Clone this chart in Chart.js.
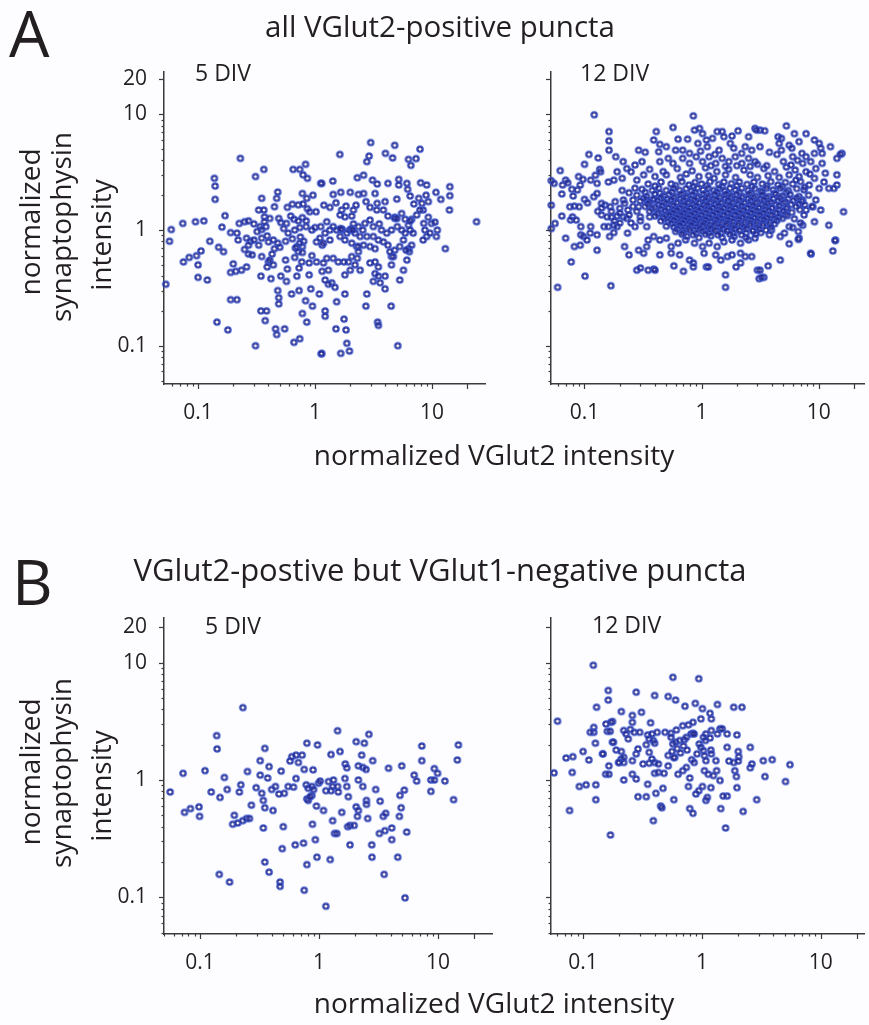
<!DOCTYPE html>
<html>
<head>
<meta charset="utf-8">
<script src="https://cdn.jsdelivr.net/npm/chart.js@4/dist/chart.umd.min.js"></script>
<style>
  body { margin: 0; background: #fdfdff; }
  #fig { position: relative; width: 869px; height: 1025px; overflow: hidden; background: #fdfdff;
         font-family: "Open Sans", sans-serif; color: #231f20; }
  #fig canvas { position: absolute; left: 0; top: 0; }
  .t { position: absolute; white-space: nowrap; line-height: 1; }
</style>
</head>
<body>
<div id="fig">
  <canvas id="a5" width="869" height="1025"></canvas>
  <canvas id="a12" width="869" height="1025"></canvas>
  <canvas id="b5" width="869" height="1025"></canvas>
  <canvas id="b12" width="869" height="1025"></canvas>
</div>
<script>
// tick labels shown on the log axes
const xTickLabels = [0.1, 1, 10];
const yTickLabels = [0.1, 1, 10, 20];

// A, 5 DIV: all VGlut2-positive puncta  [VGlut2, synaptophysin]
const a5Points = [
  [0.23,4.16],[0.31,2.9],[0.365,3.34],[0.138,2.8],[0.14,2.4],[0.14,1.84],[0.17,1.33],[0.074,1.14],[0.095,1.18],[0.112,1.2],
  [0.059,1.01],[0.057,0.8],[0.16,1.06],[0.126,0.8],[0.15,0.71],[0.165,0.65],[0.106,0.66],[0.097,0.6],[0.084,0.58],[0.075,0.53],
  [0.1,0.5],[0.1,0.39],[0.12,0.37],[0.053,0.34],[0.2,0.51],[0.19,0.43],[0.21,0.44],[0.235,0.45],[0.26,0.48],[0.19,0.25],
  [0.215,0.25],[0.145,0.16],[0.18,0.137],[0.31,0.1],[0.345,0.2],[0.385,0.2],[0.375,0.165],[0.46,0.14],[0.47,0.125],[0.55,0.14],
  [0.66,0.107],[0.74,0.115],[1.13,0.085],[0.345,0.4],[0.42,0.38],[0.48,0.3],[0.49,0.26],[0.49,0.23],[0.63,0.28],[0.73,0.3],
  [0.92,0.31],[0.83,0.245],[0.95,0.22],[0.78,0.19],[0.85,0.16],[0.51,0.4],[0.58,0.46],[0.73,0.47],[0.89,0.41],[1.15,0.44],
  [0.4,0.53],[0.39,0.48],[0.56,0.55],[0.35,0.59],[0.225,1.14],[0.19,0.95],[0.215,0.94],[0.22,0.82],[0.25,1.18],[0.27,1.2],
  [0.26,0.85],[0.28,0.8],[0.27,0.74],[0.25,0.68],[0.27,0.62],[0.29,0.61],[0.33,1.49],[0.365,1.49],[0.35,1.88],[0.3,1.13],
  [0.34,1.07],[0.38,1.07],[0.35,1.01],[0.32,0.97],[0.3,0.82],[0.33,0.74],[0.35,0.85],[0.39,0.89],[0.4,0.79],[0.44,0.82],
  [0.48,0.77],[0.5,0.71],[0.45,0.69],[0.37,1.3],[0.41,1.26],[0.37,1.18],[0.45,1.59],[0.47,1.88],[0.48,2.13],[0.58,1.57],
  [0.64,1.67],[0.72,1.65],[0.79,1.68],[0.86,1.53],[0.9,1.44],[1.02,1.44],[0.49,1.26],[0.51,1.16],[0.57,1.14],[0.54,1.03],
  [0.59,0.94],[0.67,1.0],[0.74,1.05],[0.84,1.07],[0.94,1.0],[1.0,1.05],[1.12,1.07],[0.65,3.34],[0.74,3.34],[0.83,3.7],
  [0.79,3.0],[0.86,2.8],[0.78,2.07],[0.85,1.88],[0.96,2.0],[1.12,2.53],[0.75,0.87],[0.8,0.8],[0.78,0.72],[0.74,0.77],
  [0.7,0.72],[0.68,0.7],[0.72,0.65],[0.78,0.64],[1.03,0.79],[1.1,0.85],[1.15,0.74],[0.94,0.6],[0.89,0.52],[1.03,0.53],
  [0.41,0.55],[0.44,0.5],[0.62,1.32],[0.66,1.24],[0.78,1.28],[0.84,1.2],[0.72,1.2],[0.56,0.8],[0.64,0.84],[0.43,0.62],
  [0.7,0.4],[0.57,0.36],[0.67,0.58],[0.77,0.53],[1.09,0.28],
  [2.99,5.7],[4.8,5.4],[7.9,5.0],[1.63,4.5],[2.9,4.36],[2.77,3.9],[4.0,4.6],[4.6,4.2],[6.3,4.08],[6.6,3.62],
  [7.3,4.14],[1.42,2.65],[1.14,2.53],[2.3,2.83],[2.6,2.98],[3.1,2.7],[3.4,2.5],[4.2,2.53],[5.2,2.74],[5.2,2.45],
  [6.1,2.53],[6.2,2.25],[8.0,2.56],[9.0,2.45],[14.2,2.37],[14.2,1.98],[14.1,1.49],[10.8,2.12],[11.9,1.84],[24,1.18],
  [13,0.69],[1.43,2.03],[1.66,2.12],[2.0,2.12],[2.35,2.03],[2.6,2.07],[2.73,1.76],[3.26,2.07],[3.97,1.76],[5.0,1.85],
  [6.5,1.97],[7.0,1.68],[7.7,1.88],[8.2,1.7],[8.9,2.0],[9.3,1.76],[8.4,1.49],[1.19,1.64],[1.34,1.57],[1.51,1.72],
  [1.69,1.49],[1.84,1.61],[2.13,1.49],[2.24,1.64],[2.95,1.57],[3.37,1.49],[3.4,1.7],[3.84,1.49],[4.2,1.32],[4.8,1.29],
  [5.5,1.39],[5.9,1.24],[6.7,1.24],[7.4,1.35],[7.9,1.49],[8.5,1.14],[9.3,1.29],[9.9,1.14],[10.6,1.17],[11.1,1.0],
  [8.7,1.0],[9.0,0.88],[8.4,0.82],[9.6,0.94],[10.9,0.88],
  [1.64,1.35],[1.8,1.3],[2.06,1.32],[2.13,1.13],[2.35,1.07],[2.56,1.0],[2.67,1.14],[2.95,1.22],[3.15,1.07],[3.54,1.13],
  [3.7,1.0],[4.1,0.94],[4.5,1.0],[4.8,1.26],[5.05,1.07],[5.5,1.0],[5.9,0.94],[6.3,1.1],[6.5,1.0],[6.9,0.94],
  [1.26,1.18],[1.34,1.0],[1.43,1.07],[1.22,0.94],[1.53,1.0],[1.69,1.0],[1.87,0.94],[1.97,1.0],[2.2,0.94],[2.43,0.88],
  [2.77,0.88],[3.15,0.88],[3.48,0.82],[3.84,0.79],[4.2,0.74],[2.95,0.72],[3.26,0.69],[2.6,0.74],[2.27,0.72],[2.06,0.77],
  [1.8,0.82],[1.64,0.88],[1.34,0.82],[1.18,0.77],[5.7,0.82],[5.3,0.72],[6.3,0.69],[6.7,0.74],[4.8,0.67],[4.5,0.59],
  [1.7,1.02],[2.05,1.03],[5.0,1.26],[6.5,1.2],[1.65,1.03],[2.1,1.0],
  [2.35,0.72],[2.35,0.65],[2.3,0.57],[2.06,0.59],[1.93,0.53],[2.2,0.5],[2.43,0.45],[2.0,0.45],[1.8,0.41],[1.77,0.53],
  [1.58,0.53],[1.43,0.57],[1.26,0.57],[1.18,0.52],[1.3,0.45],[1.22,0.37],[1.39,0.35],[1.3,0.34],[1.48,0.32],[1.53,0.24],
  [1.22,0.2],[1.22,0.18],[1.51,0.14],[1.77,0.17],[1.84,0.137],[1.87,0.105],[1.97,0.09],[1.66,0.086],[1.14,0.086],[1.8,0.28],
  [2.77,0.28],[2.72,0.22],[2.95,0.52],[3.26,0.53],[3.48,0.48],[3.26,0.42],[3.48,0.4],[3.97,0.4],[3.6,0.35],[3.15,0.36],
  [3.97,0.31],[4.5,0.5],[4.67,0.59],[4.37,0.65],[5.7,0.45],[5.3,0.37],[6.1,0.55],[6.4,0.65],[6.0,0.67],[4.47,0.22],
  [3.43,0.16],[3.48,0.15],[5.1,0.1]
];

// A, 12 DIV
const a12Points = [
  [0.121,9.9],[0.162,7.1],[0.162,5.9],[0.162,4.9],[0.185,4.3],[0.131,4.2],[0.109,4.5],[0.214,3.9],[0.1,3.7],[0.135,3.35],
  [0.062,3.26],[0.052,2.67],[0.055,2.53],[0.065,2.45],[0.069,2.7],[0.072,2.56],[0.064,2.05],[0.078,2.25],[0.087,2.22],[0.092,2.45],
  [0.089,2.9],[0.097,2.74],[0.113,2.7],[0.124,2.98],[0.128,2.53],[0.137,3.19],[0.08,1.97],[0.1,1.84],[0.106,1.72],[0.12,1.94],
  [0.128,2.07],[0.052,1.64],[0.075,1.59],[0.082,1.61],[0.09,1.59],[0.079,1.3],[0.076,1.22],[0.085,1.22],[0.093,1.07],[0.113,1.07],
  [0.112,0.94],[0.093,0.91],[0.098,0.88],[0.105,0.82],[0.128,0.91],[0.082,0.72],[0.092,0.74],[0.069,0.85],[0.064,1.32],[0.056,1.14],
  [0.052,1.03],[0.077,0.53],[0.101,0.4],[0.059,0.32],[0.168,0.33],[0.128,0.67],[0.164,0.88],[0.178,0.95],[0.147,1.07],[0.16,1.07],
  [0.178,1.1],[0.19,1.07],[0.14,1.35],[0.156,1.3],[0.17,1.29],[0.19,1.32],[0.15,1.64],[0.166,1.59],[0.183,1.76],[0.2,1.54],
  [0.215,1.82],[0.235,1.49],[0.215,1.3],[0.23,1.26],[0.16,2.6],[0.178,2.7],[0.19,3.19],[0.21,2.8],[0.23,3.4],[0.25,3.19],
  [0.27,3.65],[0.28,2.7],[0.31,3.9],[0.33,4.7],[0.29,4.9],[0.32,3.0],[0.233,0.94],[0.22,0.72],[0.24,0.61],[0.28,0.45],
  [0.3,0.47],[0.35,0.45],[0.39,0.46],[0.29,0.67],[0.32,0.63],[0.34,0.72],[0.35,0.82],[0.26,1.82],[0.29,1.59],[0.34,1.82],
  [0.39,1.82],[0.27,1.07],[0.34,1.07],[0.36,1.3],[0.3,1.3],[0.14,1.7],[0.13,1.45],
  [0.85,9.7],[0.57,7.7],[0.41,7.1],[0.39,6.0],[0.87,7.3],[0.96,7.55],[1.02,6.8],[1.1,6.0],[1.24,6.2],[1.36,7.1],
  [1.5,7.1],[1.55,6.4],[1.82,6.5],[2.05,7.2],[2.52,6.4],[2.86,7.55],[3.15,7.3],[0.76,6.1],[0.63,6.1],[0.44,5.5],
  [0.5,5.25],[0.6,4.9],[0.43,4.75],[0.69,4.9],[0.79,4.6],[0.93,5.6],[1.12,5.25],[1.41,4.9],[1.76,5.6],[1.88,5.1],
  [2.36,5.25],[2.68,4.9],[3.15,5.25],[0.44,3.9],[0.52,4.16],[0.57,3.77],[0.69,4.16],[0.79,3.77],[0.9,4.3],[1.02,3.9],
  [1.16,4.3],[1.32,3.77],[1.5,4.16],[1.71,3.9],[1.94,4.3],[2.21,3.77],[2.52,4.16],[2.86,3.9],
  [0.39,0.88],[0.44,0.82],[0.5,0.85],[0.55,0.72],[0.63,0.77],[0.73,0.82],[0.87,0.77],[1.02,0.72],[1.16,0.77],[1.36,0.72],
  [1.55,0.79],[1.82,0.82],[2.15,0.77],[2.52,0.82],[2.86,0.85],[0.44,0.61],[0.55,0.63],[0.65,0.61],[0.79,0.55],[0.85,0.52],
  [1.05,0.63],[1.32,0.61],[1.46,0.55],[1.66,0.59],[1.82,0.61],[2.15,0.63],[2.36,0.59],[2.68,0.59],[0.58,0.49],[0.7,0.44],
  [0.85,0.48],[1.1,0.48],[1.6,0.41],[1.97,0.48],[2.15,0.52],[3.0,0.45],[0.4,0.45],[1.6,0.32],
  [5.3,7.95],[6.2,6.8],[7.8,6.8],[3.46,7.2],[2.95,7.3],[4.5,6.4],[4.8,6.2],[4.6,5.6],[4.8,4.9],[5.6,5.4],
  [5.9,5.1],[6.8,5.8],[6.0,4.3],[9.2,6.0],[10.1,5.6],[10.4,5.1],[9.2,4.6],[10.7,4.6],[12.6,5.25],[15.8,4.6],
  [14.3,4.16],[7.8,4.3],[8.55,3.9],[7.3,3.77],[10.7,3.77],[9.45,3.4],[7.8,3.19],[11.4,3.1],[14.3,3.0],[14.3,2.45],
  [12.2,2.29],[13.5,2.29],[11.1,2.6],[9.2,2.8],[10.1,2.29],[8.3,2.45],[7.5,2.22],[9.45,1.82],[8.9,1.59],[7.8,1.49],
  [7.3,1.82],[10.4,1.49],[16.3,1.44],[12.2,1.1],[9.2,1.18],[7.3,1.1],[6.7,0.97],[5.6,1.07],[5.1,0.94],[4.7,0.88],
  [3.95,1.0],[3.8,0.91],[13.9,0.82],[13.2,0.66],[8.6,0.62],[6.8,0.85],[5.6,0.76],[4.7,0.55],[3.7,0.49],[3.15,0.45],
  [3.1,0.38],[3.4,0.39],[8.55,0.63],[13.8,0.81],[6.7,0.83],[15.3,4.5],[1.14,0.48],[3.25,0.39],
  [0.36,3.35],[0.47,3.2],[0.62,3.4],[0.83,3.25],[1.08,3.45],[1.35,3.2],[1.7,3.35],[2.3,3.3],[3.4,3.4],[4.2,3.2],
  [5.3,3.5],[6.3,3.3],[0.4,2.9],[0.5,3.0],[0.66,2.85],[0.74,3.05],[0.95,2.9],[1.15,2.95],[1.28,2.8],[1.6,3.0],
  [1.95,2.85],[2.6,3.0],[3.0,2.85],[3.7,2.95],[4.6,2.85],[5.6,3.0],[6.8,2.9],[8.4,3.05],
  [0.35,2.5],[0.45,2.6],[0.55,2.5],[0.68,2.62],[0.78,2.45],[0.88,2.58],[1.0,2.5],[1.18,2.62],[1.4,2.48],[1.55,2.6],
  [1.8,2.52],[2.1,2.6],[2.45,2.48],[2.8,2.6],[3.3,2.5],[3.9,2.62],[4.5,2.45],[5.2,2.58],[6.0,2.5],[7.0,2.62],
  [0.4,2.4],[0.6,2.42],[0.85,2.38],[1.1,2.42],[1.5,2.38],[2.0,2.42],[2.7,2.38],[3.6,2.42],[4.9,2.38],
  [0.31,2.25],[0.38,2.2],[0.43,2.3],[0.5,2.2],[0.58,2.3],[0.65,2.2],[0.74,2.28],[0.82,2.18],[0.92,2.3],[1.03,2.22],
  [1.14,2.3],[1.27,2.2],[1.42,2.28],[1.58,2.18],[1.75,2.3],[1.95,2.22],[2.2,2.3],[2.5,2.2],[2.85,2.28],[3.2,2.18],
  [3.6,2.3],[4.1,2.22],[4.7,2.3],[5.5,2.2],[6.5,2.28],
  [0.33,2.12],[0.44,2.08],[0.56,2.13],[0.7,2.07],[0.88,2.12],[1.1,2.08],[1.35,2.13],[1.7,2.07],[2.1,2.12],[2.65,2.08],
  [3.3,2.13],[4.2,2.08],[5.3,2.12],
  [0.28,2.0],[0.34,1.95],[0.4,2.05],[0.47,1.97],[0.53,2.03],[0.6,1.95],[0.67,2.04],[0.75,1.96],[0.84,2.02],[0.93,1.95],
  [1.04,2.05],[1.16,1.96],[1.3,2.03],[1.45,1.95],[1.62,2.04],[1.8,1.97],[2.0,2.03],[2.25,1.95],[2.55,2.04],[2.9,1.96],
  [3.3,2.02],[3.75,1.95],[4.3,2.05],[4.9,1.97],[5.7,2.03],[6.8,1.95],
  [0.32,1.88],[0.39,1.86],[0.45,1.9],[0.51,1.85],[0.58,1.9],[0.66,1.86],[0.74,1.9],[0.82,1.85],[0.92,1.9],[1.02,1.86],
  [1.13,1.9],[1.27,1.85],[1.42,1.9],[1.58,1.86],[1.77,1.9],[1.98,1.85],[2.22,1.9],[2.5,1.86],[2.8,1.9],[3.2,1.85],
  [3.6,1.9],[4.1,1.86],[4.7,1.9],[5.5,1.86],[6.5,1.89],
  [0.3,1.78],[0.36,1.74],[0.42,1.8],[0.48,1.75],[0.55,1.82],[0.62,1.74],[0.7,1.8],[0.78,1.75],[0.87,1.82],[0.97,1.74],
  [1.08,1.8],[1.2,1.75],[1.34,1.82],[1.5,1.74],[1.68,1.8],[1.88,1.75],[2.1,1.82],[2.35,1.74],[2.65,1.8],[3.0,1.75],
  [3.4,1.82],[3.9,1.74],[4.5,1.8],[5.2,1.75],[6.1,1.8],[7.2,1.76],
  [0.35,1.68],[0.43,1.66],[0.5,1.7],[0.56,1.66],[0.62,1.7],[0.69,1.65],[0.76,1.7],[0.85,1.66],[0.95,1.7],[1.05,1.65],
  [1.17,1.7],[1.3,1.66],[1.46,1.7],[1.64,1.65],[1.83,1.7],[2.05,1.66],[2.32,1.7],[2.6,1.65],[2.9,1.7],[3.3,1.66],
  [3.7,1.7],[4.3,1.65],[5.0,1.7],[5.8,1.66],[6.8,1.68],
  [0.33,1.6],[0.4,1.57],[0.46,1.62],[0.52,1.56],[0.58,1.62],[0.65,1.56],[0.72,1.63],[0.8,1.57],[0.9,1.62],[1.0,1.56],
  [1.12,1.63],[1.25,1.57],[1.4,1.62],[1.56,1.56],[1.74,1.63],[1.95,1.57],[2.2,1.62],[2.45,1.56],[2.75,1.63],[3.1,1.57],
  [3.5,1.62],[4.0,1.56],[4.6,1.62],[5.4,1.57],[6.4,1.6],
  [0.38,1.53],[0.45,1.51],[0.52,1.54],[0.58,1.5],[0.65,1.54],[0.73,1.5],[0.81,1.55],[0.9,1.5],[1.0,1.54],[1.12,1.5],
  [1.25,1.55],[1.4,1.5],[1.56,1.54],[1.75,1.5],[1.95,1.55],[2.2,1.5],[2.48,1.54],[2.78,1.5],[3.1,1.55],[3.5,1.5],
  [4.0,1.54],[4.6,1.5],[5.3,1.53],
  [0.36,1.45],[0.43,1.42],[0.49,1.47],[0.55,1.42],[0.62,1.48],[0.69,1.42],[0.77,1.47],[0.86,1.41],[0.95,1.47],[1.06,1.42],
  [1.18,1.48],[1.32,1.42],[1.48,1.47],[1.65,1.41],[1.85,1.47],[2.05,1.42],[2.3,1.48],[2.6,1.42],[2.95,1.47],[3.3,1.41],
  [3.75,1.47],[4.3,1.42],[5.0,1.46],[5.9,1.42],
  [0.42,1.38],[0.5,1.36],[0.57,1.4],[0.64,1.36],[0.71,1.4],[0.79,1.36],[0.88,1.4],[0.98,1.35],[1.09,1.4],[1.22,1.36],
  [1.36,1.4],[1.52,1.35],[1.7,1.4],[1.9,1.36],[2.12,1.4],[2.38,1.35],[2.68,1.4],[3.0,1.36],[3.4,1.4],[3.85,1.36],
  [4.4,1.39],[5.2,1.37],
  [0.4,1.32],[0.47,1.3],[0.53,1.34],[0.6,1.29],[0.67,1.34],[0.74,1.3],[0.82,1.35],[0.91,1.29],[1.01,1.34],[1.13,1.3],
  [1.26,1.35],[1.4,1.29],[1.57,1.34],[1.76,1.3],[1.96,1.35],[2.2,1.29],[2.48,1.34],[2.8,1.3],[3.15,1.35],[3.55,1.29],
  [4.0,1.34],[4.6,1.3],[5.4,1.33],
  [0.48,1.26],[0.55,1.24],[0.62,1.27],[0.69,1.24],[0.77,1.27],[0.85,1.23],[0.95,1.27],[1.05,1.24],[1.17,1.28],[1.3,1.24],
  [1.45,1.27],[1.62,1.23],[1.8,1.27],[2.02,1.24],[2.26,1.28],[2.52,1.24],[2.85,1.27],[3.2,1.24],[3.65,1.27],[4.2,1.25],
  [4.9,1.26],
  [0.45,1.2],[0.52,1.18],[0.58,1.22],[0.65,1.17],[0.72,1.22],[0.8,1.18],[0.88,1.23],[0.98,1.17],[1.09,1.22],[1.21,1.18],
  [1.35,1.23],[1.5,1.17],[1.68,1.22],[1.87,1.18],[2.1,1.23],[2.35,1.17],[2.65,1.22],[3.0,1.18],[3.4,1.23],[3.85,1.17],
  [4.4,1.21],
  [0.55,1.14],[0.62,1.12],[0.69,1.15],[0.77,1.12],[0.85,1.15],[0.95,1.12],[1.06,1.15],[1.18,1.11],[1.32,1.15],[1.48,1.12],
  [1.65,1.15],[1.85,1.11],[2.08,1.15],[2.32,1.12],[2.6,1.15],[2.95,1.12],[3.35,1.14],[3.8,1.12],[4.2,1.13],
  [0.5,1.08],[0.58,1.06],[0.65,1.1],[0.73,1.05],[0.82,1.1],[0.92,1.06],[1.03,1.1],[1.15,1.05],[1.29,1.1],[1.44,1.06],
  [1.62,1.1],[1.82,1.05],[2.05,1.1],[2.3,1.06],[2.6,1.1],[2.95,1.05],[3.35,1.09],[3.9,1.05],
  [0.62,1.02],[0.7,1.0],[0.78,1.03],[0.87,1.0],[0.97,1.03],[1.08,1.0],[1.21,1.03],[1.36,0.99],[1.52,1.03],[1.7,1.0],
  [1.92,1.03],[2.15,1.0],[2.42,1.03],[2.75,1.0],[3.1,1.02],[3.55,1.0],
  [0.6,0.97],[0.7,0.95],[0.8,0.99],[0.9,0.94],[1.02,0.98],[1.15,0.94],[1.3,0.99],[1.46,0.94],[1.65,0.98],[1.86,0.94],
  [2.1,0.99],[2.4,0.94],[2.75,0.98],[3.2,0.95],[0.75,0.88],[0.95,0.86],[1.2,0.89],[1.5,0.86],[1.9,0.88],[2.4,0.86],
  [0.68,0.92],[0.85,0.91],[1.08,0.92],[1.38,0.91],[1.75,0.92],[2.2,0.91],[2.9,0.92],
  [6.9,1.5],[7.5,1.35],[6.2,1.25],[7.0,1.15],[6.0,1.05],[7.6,1.65],[8.2,2.0],[7.6,2.35],[6.4,2.7],[8.8,1.6],
  [1.2,3.6],[1.6,3.55],[2.0,3.6],[2.6,3.55],[3.0,3.7],[3.6,3.6],[5.0,3.9],[5.8,3.65],[6.6,4.0],[4.4,4.5],
  [3.8,4.7],[2.2,4.6],[1.3,4.5],[0.98,4.8],[7.2,4.6],
  [0.14,1.55],[0.17,1.45],[0.2,1.4],[0.24,1.35],[0.26,1.6],[0.22,1.7],[0.18,1.2],[0.25,1.15],[0.28,1.45],[0.3,1.2],
  [0.2,1.15],[0.24,2.1],[0.27,2.3],[0.21,2.2]
];

// B, 5 DIV: VGlut2-positive but VGlut1-negative puncta
const b5Points = [
  [0.056,0.79],[0.072,1.14],[0.074,0.53],[0.083,0.57],[0.098,0.59],[0.099,0.49],[0.11,1.2],[0.124,0.79],[0.138,2.39],[0.139,1.84],
  [0.147,0.71],[0.16,1.05],[0.169,0.83],[0.145,0.157],[0.177,0.135],[0.194,0.5],[0.188,0.42],[0.207,0.43],[0.228,0.45],[0.246,0.47],
  [0.26,0.47],[0.214,0.79],[0.22,0.91],[0.229,4.14],[0.25,1.18],[0.27,0.61],[0.296,0.86],[0.32,1.46],[0.32,1.1],[0.33,0.77],
  [0.34,0.67],[0.34,0.39],[0.35,1.86],[0.35,0.58],[0.38,1.3],[0.37,1.04],[0.4,0.83],[0.41,0.55],[0.35,0.2],[0.38,0.164],
  [0.43,0.88],[0.46,0.76],[0.48,1.19],[0.51,0.77],[0.47,0.135],[0.47,0.124],[0.5,0.4],[0.49,0.26],[0.57,1.45],[0.59,1.58],
  [0.64,1.63],[0.67,1.41],[0.72,1.63],[0.61,0.87],[0.64,1.03],[0.55,0.88],[0.63,0.28],[0.74,0.29],[0.75,1.23],[0.75,0.115],
  [0.79,2.06],[0.97,1.99],[0.78,0.91],[0.81,0.85],[0.87,0.88],[0.9,0.83],[0.79,0.69],[0.81,0.67],[0.87,0.74],[0.84,0.72],
  [0.89,1.22],[0.88,0.42],[0.93,0.31],[0.96,0.22],[0.99,0.94],[1.02,0.98],[0.95,0.6],[0.79,0.19],[1.09,0.55],[1.14,0.084],
  [1.14,0.81],[1.26,0.81],[1.2,0.97],[1.32,1.0],[1.3,0.88],[1.26,1.65],[1.3,0.45],[1.35,0.35],[1.41,0.35],[1.24,0.21],
  [1.43,0.88],[1.45,0.79],[1.5,1.75],[1.43,2.63],[1.55,0.53],[1.66,1.37],[1.71,1.27],[1.65,1.03],[1.71,0.88],[1.74,0.4],
  [1.82,0.41],[1.97,0.41],[1.82,0.28],[2.05,2.12],[2.4,2.06],[2.14,1.32],[2.33,1.28],[2.14,1.0],[2.33,0.88],[2.05,0.59],
  [2.14,0.55],[2.1,0.49],[2.28,1.63],[2.48,1.23],[2.5,0.67],[2.5,0.62],[2.56,0.47],[2.62,2.45],[2.82,1.46],[2.77,0.28],
  [2.78,0.22],[2.99,0.83],[3.26,0.66],[3.21,0.35],[3.46,0.49],[3.63,0.52],[3.52,0.157],[3.57,0.37],[4.08,0.39],[4.08,0.31],
  [3.83,1.26],[4.58,0.22],[4.73,0.49],[4.89,0.58],[4.78,0.74],[4.95,1.32],[5.2,0.82],[5.27,0.099],[5.45,0.36],[6.3,1.1],
  [6.6,0.98],[7.3,1.95],[7.3,1.46],[8.7,0.8],[8.7,1.0],[9.3,1.0],[9.3,1.25],[9.9,1.14],[11.4,0.98],[14.8,1.99],
  [14.5,1.48],[13.5,0.68],[1.76,0.72]
];

// B, 12 DIV
const b12Points = [
  [0.122,9.5],[0.57,7.5],[0.94,7.3],[0.163,5.8],[0.163,4.8],[0.28,5.6],[0.4,5.25],[0.52,5.15],[0.6,4.8],[0.13,4.17],
  [0.21,3.83],[0.26,3.55],[0.26,3.1],[0.31,3.78],[0.72,4.25],[0.88,4.5],[1.01,4.05],[1.17,3.7],[1.2,3.32],[1.35,4.4],
  [1.85,4.17],[0.061,3.17],[0.123,2.81],[0.123,2.55],[0.115,2.55],[0.156,3.0],[0.171,3.1],[0.177,3.15],[0.16,2.6],[0.169,2.6],
  [0.177,2.1],[0.127,2.06],[0.146,1.67],[0.22,2.64],[0.23,2.47],[0.24,2.24],[0.25,2.7],[0.27,2.55],[0.3,2.55],[0.18,2.1],
  [0.19,1.8],[0.21,1.75],[0.21,1.51],[0.2,1.41],[0.35,2.42],[0.36,2.24],[0.38,2.47],[0.34,2.0],[0.39,2.17],[0.4,2.06],
  [0.37,3.07],[0.42,2.55],[0.49,2.55],[0.55,2.5],[0.61,2.67],[0.69,2.9],[0.77,2.95],[0.84,3.1],[0.98,3.32],[1.08,2.47],
  [1.17,2.28],[1.2,2.64],[0.55,2.31],[0.57,2.03],[0.6,2.1],[0.65,2.17],[0.71,2.2],[0.74,2.31],[0.81,2.47],[0.84,2.5],
  [0.86,2.47],[1.03,2.31],[1.07,2.17],[0.95,2.03],[1.42,2.73],[1.63,2.47],[1.97,2.42],[2.55,1.9],[0.082,1.58],[0.072,1.54],
  [0.1,1.75],[0.112,1.48],[0.147,1.67],[0.165,1.32],[0.155,1.12],[0.165,1.12],[0.057,1.15],[0.081,1.16],[0.093,0.88],[0.106,0.91],
  [0.128,0.91],[0.128,0.68],[0.077,0.55],[0.17,0.34],[0.2,1.41],[0.22,1.41],[0.22,1.56],[0.32,1.37],[0.36,1.39],[0.38,1.51],
  [0.4,1.41],[0.43,1.37],[0.26,1.12],[0.28,1.02],[0.35,0.92],[0.4,1.14],[0.43,1.16],[0.48,1.14],[0.52,1.32],[0.29,0.72],
  [0.34,0.72],[0.41,0.77],[0.47,0.85],[0.45,0.6],[0.46,0.58],[0.39,0.45],[0.58,0.68],[0.59,1.56],[0.63,1.12],[0.69,1.2],
  [0.74,1.28],[0.79,1.04],[0.82,1.49],[0.86,1.41],[0.91,1.67],[0.98,1.9],[1.03,1.78],[1.05,1.61],[1.08,1.46],[1.05,1.2],
  [1.13,1.12],[0.77,0.88],[0.79,0.57],[0.84,0.52],[0.89,0.76],[0.94,0.81],[1.01,0.88],[1.08,0.67],[1.11,0.71],[1.19,1.8],
  [1.2,1.67],[1.31,1.46],[1.33,1.2],[1.42,0.99],[1.25,1.09],[1.19,0.86],[1.35,2.47],[1.48,2.73],[1.63,1.9],[1.69,1.45],
  [1.63,0.73],[1.51,0.73],[1.44,0.57],[1.58,0.39],[1.85,1.41],[1.89,1.2],[1.95,1.07],[1.97,0.86],[2.02,1.75],[2.04,1.58],
  [2.02,1.45],[2.55,1.27],[2.63,1.37],[2.89,0.68],[2.22,0.54],[2.17,4.17],[3.28,1.46],[3.9,1.49],[3.39,1.07],[5.05,0.97],
  [5.5,1.35],[0.22,1.0],[0.26,1.46],[0.28,1.67],[0.29,1.84],[0.36,1.72],[0.52,1.62],[0.56,1.75],[0.62,1.85],[0.66,1.7],
  [0.7,1.95],[0.75,1.8],[0.58,1.55]
];

Chart.defaults.font.family = '"Open Sans", sans-serif';
Chart.defaults.color = '#231f20';

const axisColor = '#3a3a3a';

// two-tone ring marker: blue outside, navy inside
function makeRing() {
  const c = document.createElement('canvas');
  c.width = 10; c.height = 10;
  const g = c.getContext('2d');
  g.lineWidth = 1.3; g.strokeStyle = '#3a56cf';
  g.beginPath(); g.arc(5, 5, 3.2, 0, Math.PI * 2); g.stroke();
  g.lineWidth = 1.2; g.strokeStyle = '#232585';
  g.beginPath(); g.arc(5, 5, 2.2, 0, Math.PI * 2); g.stroke();
  return c;
}
const ring = makeRing();

function nearly(v, list) {
  return list.find(t => Math.abs(v - t) / t < 1e-6);
}

// minor/major tick marks on log axes (1..9 x 10^n, plus 20)
function logMarks(min, max) {
  const marks = [];
  for (let e = -2; e <= 1; e++) {
    for (let k = 1; k <= 9; k++) {
      const v = k * Math.pow(10, e);
      if (v >= min && v <= max) marks.push({ v, major: k === 1 || v === 20 });
    }
  }
  return marks;
}

const tickMarks = {
  id: 'tickMarks',
  afterDraw(chart) {
    const ctx = chart.ctx;
    const xs = chart.scales.x, ys = chart.scales.y;
    ctx.save();
    ctx.strokeStyle = axisColor;
    ctx.lineWidth = 1.2;
    logMarks(xs.min, xs.max).forEach(m => {
      const px = Math.round(xs.getPixelForValue(m.v)) + 0.5;
      ctx.beginPath();
      ctx.moveTo(px, xs.top);
      ctx.lineTo(px, xs.top + (m.major ? 5 : 2.5));
      ctx.stroke();
    });
    logMarks(ys.min, ys.max).forEach(m => {
      const py = Math.round(ys.getPixelForValue(m.v)) + 0.5;
      ctx.beginPath();
      ctx.moveTo(ys.right, py);
      ctx.lineTo(ys.right - (m.major ? 5 : 2.5), py);
      ctx.stroke();
    });
    ctx.restore();
  }
};

function makePanel(id, points, area, xRange, yRange, showYLabels) {
  new Chart(document.getElementById(id), {
    type: 'scatter',
    data: {
      datasets: [{
        data: points.map(p => ({ x: p[0], y: p[1] })),
        pointStyle: ring,
        pointRadius: 4,
        clip: false
      }]
    },
    options: {
      responsive: false,
      animation: false,
      events: [],
      layout: {
        padding: { left: area.l - 64, right: 869 - area.r, top: area.t, bottom: 1025 - area.b - 40 }
      },
      plugins: { legend: { display: false }, tooltip: { enabled: false } },
      scales: {
        x: {
          type: 'logarithmic', min: xRange[0], max: xRange[1],
          grid: { display: false, drawTicks: false },
          border: { display: true, color: axisColor, width: 1.5 },
          ticks: {
            autoSkip: false, maxRotation: 0, padding: 16, font: { size: 21 },
            callback: v => { const t = nearly(v, xTickLabels); return t ? String(t) : null; }
          },
          afterFit: s => { s.height = 40; }
        },
        y: {
          type: 'logarithmic', min: yRange[0], max: yRange[1],
          grid: { display: false, drawTicks: false },
          border: { display: true, color: axisColor, width: 1.5 },
          ticks: {
            display: showYLabels, autoSkip: false, padding: 17, font: { size: 21 },
            callback: v => { const t = nearly(v, yTickLabels); return t ? String(t) : null; }
          },
          afterFit: s => { s.width = 64; }
        }
      }
    },
    plugins: [tickMarks]
  });
}

makePanel('a5', a5Points, { l: 164, r: 485, t: 72, b: 384 }, [0.0512, 28.4], [0.0467, 23.2], true);
makePanel('a12', a12Points, { l: 551, r: 869, t: 72, b: 384 }, [0.0518, 24.4], [0.0467, 23.2], false);
makePanel('b5', b5Points, { l: 164, r: 492, t: 618, b: 934 }, [0.0498, 28.4], [0.0487, 24.0], true);
makePanel('b12', b12Points, { l: 551, r: 869, t: 618, b: 934 }, [0.0538, 23.1], [0.0487, 24.0], false);

// static text: panel letters, titles, axis titles
const fig = document.getElementById('fig');
function text(str, x, baseline, size, align) {
  const d = document.createElement('div');
  d.className = 't';
  d.textContent = str;
  d.style.fontSize = size + 'px';
  d.style.left = x + 'px';
  d.style.top = (baseline - 0.888 * size) + 'px';
  if (align === 'center') d.style.transform = 'translateX(-50%)';
  fig.appendChild(d);
}
function vtext(str, bx, cy, size) {
  const d = document.createElement('div');
  d.className = 't';
  d.textContent = str;
  d.style.fontSize = size + 'px';
  d.style.left = '0px';
  d.style.top = '0px';
  d.style.transformOrigin = '0 0';
  d.style.transform = 'translate(' + bx + 'px,' + cy + 'px) rotate(-90deg) translate(-50%,-0.888em)';
  fig.appendChild(d);
}

text('A', 9, 58, 64);
text('all VGlut2-positive puncta', 440, 37, 29.5, 'center');
text('5 DIV', 195, 81.5, 23);
text('12 DIV', 580, 81.5, 23);
vtext('normalized', 40, 222, 28);
vtext('synaptophysin', 71, 227, 28);
vtext('intensity', 111, 235, 28);
text('normalized VGlut2 intensity', 494, 465, 28, 'center');

text('B', 12, 605, 63);
text('VGlut2-postive but VGlut1-negative puncta', 440, 582, 31, 'center');
text('5 DIV', 205, 634, 23);
text('12 DIV', 592, 633, 23);
vtext('normalized', 40, 772, 28);
vtext('synaptophysin', 71, 773, 28);
vtext('intensity', 111, 786, 28);
text('normalized VGlut2 intensity', 494, 1013, 28, 'center');
</script>
</body>
</html>
